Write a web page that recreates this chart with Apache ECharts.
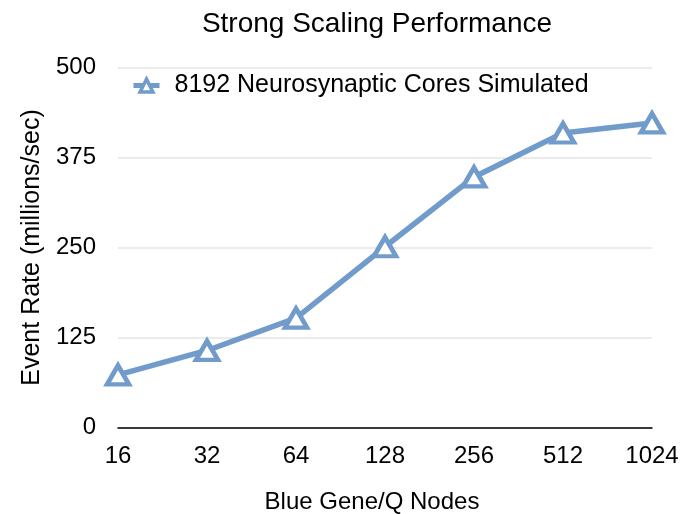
<!DOCTYPE html>
<html>
<head>
<meta charset="utf-8">
<script src="https://cdn.jsdelivr.net/npm/echarts@6/dist/echarts.min.js"></script>
<style>
  html, body { margin: 0; padding: 0; background: #ffffff; }
  #chart { width: 682px; height: 514px; }
</style>
</head>
<body>
<div id="chart"></div>
<script>
// Node counts on Blue Gene/Q and the measured event rate (millions of events per second)
const nodes = ['16', '32', '64', '128', '256', '512', '1024'];
const eventRate = [73, 107, 152, 251, 348, 409, 423];
const seriesName = '8192 Neurosynaptic Cores Simulated';

const FONT = '"Liberation Sans", Helvetica, Arial, sans-serif';
const LINE_BLUE = '#709bca';

const chart = echarts.init(document.getElementById('chart'), null, { renderer: 'canvas' });

chart.setOption({
  backgroundColor: '#ffffff',
  animation: false,
  title: {
    text: 'Strong Scaling Performance',
    left: 372,
    top: 5,
    textAlign: 'center',
    textStyle: { fontFamily: FONT, fontSize: 28, fontWeight: 'normal', color: '#000000' }
  },
  legend: {
    left: 131,
    top: 73,
    padding: 0,
    itemWidth: 26,
    itemHeight: 16,
    data: [seriesName],
    itemStyle: { borderWidth: 3.5 },
    lineStyle: { width: 5 },
    textStyle: { fontFamily: FONT, fontSize: 25, color: '#000000', padding: [0, 0, 0, 10] }
  },
  grid: {
    left: 118, right: 30, top: 67.5, bottom: 86.5,
    containLabel: false,
    outerBoundsMode: 'none'
  },
  xAxis: {
    type: 'category',
    data: nodes,
    boundaryGap: false,
    name: 'Blue Gene/Q Nodes',
    nameLocation: 'middle',
    nameGap: 63,
    nameTextStyle: { fontFamily: FONT, fontSize: 24, color: '#000000', padding: [0, 26, 0, 0] },
    axisLine: { lineStyle: { color: '#000000', width: 1.5 } },
    axisTick: { show: false },
    axisLabel: { fontFamily: FONT, fontSize: 24, color: '#000000', margin: 17 },
    splitLine: { show: false }
  },
  yAxis: {
    type: 'value',
    min: 0,
    max: 500,
    interval: 125,
    name: 'Event Rate (millions/sec)',
    nameLocation: 'middle',
    nameGap: 56,
    nameTextStyle: { fontFamily: FONT, fontSize: 25, color: '#000000' },
    axisLine: { show: false },
    axisTick: { show: false },
    axisLabel: { fontFamily: FONT, fontSize: 24, color: '#000000', margin: 22 },
    splitLine: { lineStyle: { color: '#e4e4e4', width: 1.5 } }
  },
  series: [{
    name: seriesName,
    type: 'line',
    data: eventRate,
    symbol: 'triangle',
    symbolSize: [22, 19],
    showAllSymbol: true,
    lineStyle: { color: LINE_BLUE, width: 5.5 },
    itemStyle: { color: '#ffffff', borderColor: LINE_BLUE, borderWidth: 4.5 },
    emphasis: { disabled: true }
  }]
});
</script>
</body>
</html>
